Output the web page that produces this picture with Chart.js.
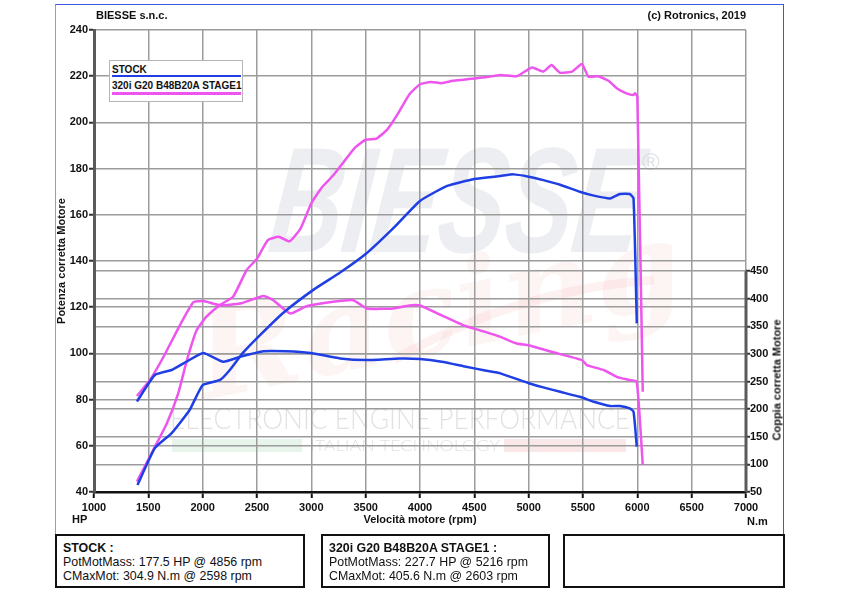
<!DOCTYPE html>
<html>
<head>
<meta charset="utf-8">
<script src="https://cdn.jsdelivr.net/npm/chart.js@4.4.0/dist/chart.umd.min.js"></script>
<style>
  body { margin: 0; background: #fff; width: 842px; height: 595px; overflow: hidden; position: relative;
         font-family: "Liberation Sans", Arial, sans-serif; color: #111; }
  .abs { position: absolute; white-space: nowrap; line-height: 1; }
  #frame { position: absolute; left: 55px; top: 4px; width: 729px; height: 530px; box-sizing: border-box;
           border: 1.5px solid #3a58e0; border-bottom: none; border-left-color: #8c9ae6; }
  #chart { position: absolute; left: 0; top: 0; }
  .hdr { font-size: 11px; font-weight: bold; }
  #legend { position: absolute; left: 109px; top: 60px; width: 134px; height: 42px; box-sizing: border-box;
            border: 1px solid #b5b5b5; background: #fff; }
  .lgtxt { font-size: 10px; font-weight: bold; }
  .lgline { position: absolute; left: 2px; width: 129px; height: 2.5px; }
  .box { position: absolute; top: 534px; height: 54px; box-sizing: border-box; border: 2px solid #111; background: #fff; }
  .bt { font-size: 12.4px; }
</style>
</head>
<body>
<div id="frame"></div>
<canvas id="chart" width="842" height="595"></canvas>

<div class="abs hdr" style="left:96px; top:10px;">BIESSE s.n.c.</div>
<div class="abs hdr" style="right:96px; top:10px;">(c) Rotronics, 2019</div>

<div id="legend">
  <div class="abs lgtxt" style="left:2px; top:4px;">STOCK</div>
  <div class="lgline" style="top:13.5px; background:#1f3fe4;"></div>
  <div class="abs lgtxt" style="left:2px; top:20px;">320i G20 B48B20A STAGE1</div>
  <div class="lgline" style="top:31px; background:#ee55ee;"></div>
</div>

<div class="abs hdr" style="left:72px; top:514px;">HP</div>
<div class="abs hdr" style="left:747px; top:516px;">N.m</div>
<div class="abs hdr" style="left:777px; top:380px; transform: translate(-50%,-50%) rotate(-90deg);">Coppia corretta Motore</div>

<div class="box" style="left:55px; width:250px;">
  <div class="abs bt" style="left:6px; top:6px; font-weight:bold;">STOCK :</div>
  <div class="abs bt" style="left:6px; top:20px;">PotMotMass: 177.5 HP @ 4856 rpm</div>
  <div class="abs bt" style="left:6px; top:34px;">CMaxMot: 304.9 N.m @ 2598 rpm</div>
</div>
<div class="box" style="left:321px; width:229px;">
  <div class="abs bt" style="left:6px; top:6px; font-weight:bold;">320i G20 B48B20A STAGE1 :</div>
  <div class="abs bt" style="left:6px; top:20px;">PotMotMass: 227.7 HP @ 5216 rpm</div>
  <div class="abs bt" style="left:6px; top:34px;">CMaxMot: 405.6 N.m @ 2603 rpm</div>
</div>
<div class="box" style="left:563px; width:222px;"></div>

<script>
// colori delle curve
const BLUE = '#1f3fe4';
const MAGENTA = '#ee55ee';

// asse x (rpm) e assi y
const rpmTicks = [1000, 1500, 2000, 2500, 3000, 3500, 4000, 4500, 5000, 5500, 6000, 6500, 7000];
const hpTicks = [40, 60, 80, 100, 120, 140, 160, 180, 200, 220, 240];
const nmTicks = [50, 100, 150, 200, 250, 300, 350, 400, 450];

// STOCK - potenza (HP)
const stockPowRpm = [1400, 1560, 1715, 1880, 2000, 2160, 2250, 2370, 2530, 2740, 3015, 3265, 3500, 3750, 4000, 4250, 4500, 4740, 4860, 5000, 5135, 5290, 5470, 5600, 5750, 5840, 5930, 5965, 5995];
const stockPow = [43, 59, 65.5, 75.5, 86.3, 88.5, 92.8, 100.2, 108, 117.5, 127.4, 135, 143, 154, 166, 172.5, 175.5, 176.8, 177.5, 176.5, 175, 173, 170, 168.3, 167.1, 169, 169, 167.1, 113];

// STOCK - coppia (N.m)
const stockTrqRpm = [1395, 1560, 1715, 1850, 2005, 2190, 2345, 2560, 2770, 2990, 3265, 3510, 3815, 4000, 4200, 4400, 4600, 4740, 5000, 5135, 5290, 5470, 5600, 5750, 5840, 5930, 5965, 5995];
const stockTrq = [214, 262, 271, 286, 302, 286, 295, 305, 305, 302, 292, 289, 292, 291, 286, 278, 270, 265, 247, 239.5, 231.5, 222.5, 213.4, 205.7, 205.7, 201.5, 195.3, 132];

// STAGE1 - potenza (HP)
const stagePowRpm = [1395, 1545, 1670, 1775, 1855, 1945, 2035, 2160, 2280, 2405, 2500, 2600, 2700, 2800, 2900, 3000, 3100, 3200, 3300, 3400, 3500, 3600, 3700, 3800, 3900, 4000, 4100, 4200, 4300, 4400, 4500, 4600, 4740, 4890, 5030, 5135, 5210, 5290, 5400, 5490, 5550, 5640, 5735, 5810, 5900, 5965, 5980, 6000, 6050];
const stagePow = [44.5, 58.2, 69.7, 82.7, 97.1, 110.1, 115.9, 121, 124.5, 136.1, 141, 149, 150.5, 148.5, 154, 165, 172, 177, 183, 189, 192.5, 193, 197, 204, 212, 216.5, 217.5, 217, 218, 218.5, 219, 219.5, 220.5, 220, 223.8, 222, 224.8, 221.5, 222, 225.3, 219.8, 220, 218, 214.8, 212.6, 211.9, 212.6, 211, 83.4];

// STAGE1 - coppia (N.m)
const stageTrqRpm = [1395, 1515, 1640, 1790, 1915, 2005, 2160, 2345, 2560, 2650, 2805, 2955, 3200, 3385, 3510, 3755, 3900, 4000, 4200, 4400, 4600, 4740, 4890, 5000, 5210, 5490, 5535, 5690, 5810, 5930, 5995, 6050];
const stageTrq = [224, 253, 295, 352, 394, 396, 388.5, 391.5, 405, 397.5, 373.5, 386.5, 394.5, 397.5, 382.5, 382.5, 388, 388, 370, 352, 340, 331, 319, 316, 304, 289, 280, 271, 258.7, 252.7, 249.6, 99];

function points(xs, ys) {
    return xs.map((x, i) => ({ x: x, y: ys[i] }));
}

const tickFont = { family: 'Liberation Sans', size: 11, weight: 'bold' };
const GRID = '#9c9c9c';

// scritte in filigrana (logo) + tratto dell'asse coppia
const decor = {
    id: 'decor',
    beforeDraw(chart) {
        const ctx = chart.ctx;
        const a = chart.chartArea;
        ctx.save();
        // BIESSE
        ctx.fillStyle = 'rgba(222,224,230,0.55)';
        ctx.font = 'italic bold 150px "Liberation Sans"';
        let w = ctx.measureText('BIESSE').width;
        ctx.translate(a.left + 172, a.top + 222);
        ctx.transform(1, 0, -0.12, 1, 0, 0);
        ctx.scale(370 / w, 1);
        ctx.fillText('BIESSE', 0, 0);
        ctx.restore();
        ctx.save();
        ctx.fillStyle = 'rgba(214,217,224,0.8)';
        ctx.font = '24px "Liberation Sans"';
        ctx.fillText('\u00AE', a.left + 548, a.top + 140);
        // Racing
        ctx.fillStyle = 'rgba(240,170,170,0.13)';
        ctx.font = 'italic bold 120px "DejaVu Serif"';
        ctx.translate(a.left + 110, a.top + 370);
        ctx.rotate(-0.2);
        ctx.scale(1.05, 1);
        ctx.fillText('Racing', 0, 0);
        ctx.restore();
        ctx.save();
        ctx.strokeStyle = 'rgba(240,170,170,0.16)';
        ctx.lineWidth = 9;
        ctx.beginPath();
        ctx.moveTo(a.left + 300, a.top + 330);
        ctx.quadraticCurveTo(a.left + 420, a.top + 260, a.left + 560, a.top + 250);
        ctx.stroke();
        // ELECTRONIC ENGINE PERFORMANCE
        ctx.fillStyle = 'rgba(205,205,205,0.6)';
        ctx.font = '300 30px Lato';
        ctx.textBaseline = 'middle';
        w = ctx.measureText('ELECTRONIC ENGINE PERFORMANCE').width;
        ctx.translate(a.left + 76, a.top + 389);
        ctx.scale(460 / w, 1);
        ctx.fillText('ELECTRONIC ENGINE PERFORMANCE', 0, 0);
        ctx.restore();
        ctx.save();
        ctx.fillStyle = 'rgba(205,205,205,0.6)';
        ctx.font = '300 16px Lato';
        ctx.textBaseline = 'middle';
        w = ctx.measureText('ITALIAN TECHNOLOGY').width;
        ctx.translate(a.left + 216, a.top + 416);
        ctx.scale(190 / w, 1);
        ctx.fillText('ITALIAN TECHNOLOGY', 0, 0);
        ctx.restore();
        ctx.save();
        ctx.fillStyle = 'rgba(190,225,195,0.35)';
        ctx.fillRect(a.left + 78, a.top + 409, 130, 13);
        ctx.fillStyle = 'rgba(240,185,185,0.35)';
        ctx.fillRect(a.left + 410, a.top + 409, 122, 13);
        ctx.restore();
    },
    afterDraw(chart) {
        // l'asse della coppia si ferma a 450 N.m
        const s = chart.scales.y1;
        const ctx = chart.ctx;
        ctx.save();
        ctx.strokeStyle = '#5a5a5a';
        ctx.lineWidth = 3;
        ctx.beginPath();
        ctx.moveTo(s.left, s.getPixelForValue(nmTicks[0]));
        ctx.lineTo(s.left, s.getPixelForValue(nmTicks[nmTicks.length - 1]));
        ctx.stroke();
        ctx.restore();
    }
};

new Chart(document.getElementById('chart'), {
    type: 'line',
    data: {
        datasets: [
            { label: 'STOCK', data: points(stockPowRpm, stockPow), yAxisID: 'y', borderColor: BLUE },
            { label: 'STOCK', data: points(stockTrqRpm, stockTrq), yAxisID: 'y1', borderColor: BLUE },
            { label: '320i G20 B48B20A STAGE1', data: points(stagePowRpm, stagePow), yAxisID: 'y', borderColor: MAGENTA },
            { label: '320i G20 B48B20A STAGE1', data: points(stageTrqRpm, stageTrq), yAxisID: 'y1', borderColor: MAGENTA }
        ]
    },
    options: {
        responsive: false,
        animation: false,
        datasets: { line: { borderWidth: 2.5, pointRadius: 0, tension: 0.15, fill: false } },
        layout: { padding: { top: 30, left: 0, right: 0, bottom: 0 } },
        plugins: { legend: { display: false }, tooltip: { enabled: false } },
        scales: {
            x: {
                type: 'linear', min: 1000, max: 7000,
                afterBuildTicks: s => { s.ticks = rpmTicks.map(v => ({ value: v })); },
                afterFit: s => { s.height = 103; },
                ticks: { font: tickFont, color: '#111', padding: 3, maxRotation: 0, callback: v => String(v) },
                grid: { color: GRID, lineWidth: 1.5, tickColor: '#111', tickWidth: 2, tickLength: 6 },
                border: { color: '#111', width: 2.5 },
                title: { display: true, text: 'Velocità motore (rpm)', font: tickFont, color: '#111', padding: { top: 0, bottom: 68 } }
            },
            y: {
                position: 'left', min: 40, max: 240,
                afterBuildTicks: s => { s.ticks = hpTicks.map(v => ({ value: v })); },
                afterFit: s => { s.width = 94; },
                ticks: { font: tickFont, color: '#111', padding: 1 },
                grid: { color: GRID, lineWidth: 1.5, tickColor: '#333', tickWidth: 2, tickLength: 5 },
                border: { color: '#5a5a5a', width: 3 },
                title: { display: true, text: 'Potenza corretta Motore', font: tickFont, color: '#111', padding: { top: 55, bottom: 0 } }
            },
            y1: {
                position: 'right', min: 50, max: 887,
                afterBuildTicks: s => { s.ticks = nmTicks.map(v => ({ value: v })); },
                afterFit: s => { s.width = 96; },
                ticks: { font: tickFont, color: '#111', padding: 0 },
                grid: { color: GRID, lineWidth: 1.5, tickColor: '#333', tickWidth: 2, tickLength: 4 },
                border: { display: false }
            }
        }
    },
    plugins: [decor]
});
</script>
</body>
</html>
